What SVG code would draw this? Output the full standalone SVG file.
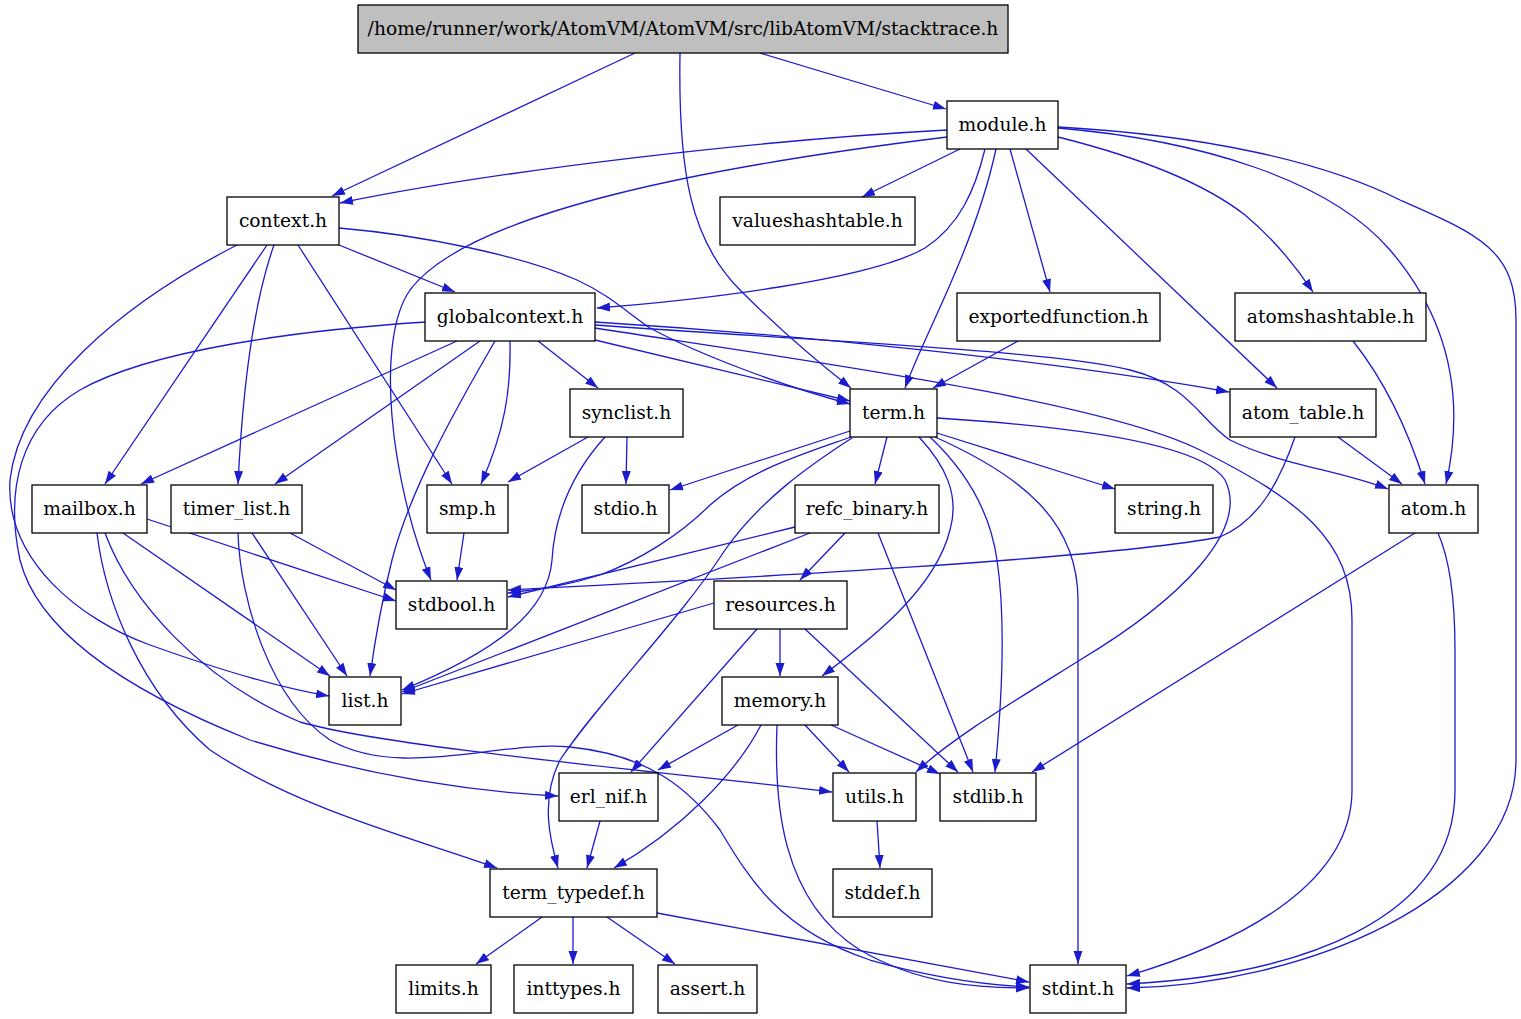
<svg xmlns="http://www.w3.org/2000/svg" width="1521" height="1019" viewBox="0 0 1521 1019">
<defs>
<style>
.n rect{fill:#fff;stroke:#000;stroke-width:1.3}
.n text{font-family:"DejaVu Serif",serif;font-size:18.67px;text-anchor:middle;fill:#000}
#e path{fill:none;stroke:#1c1ccf;stroke-width:1.3;marker-end:url(#a)}
</style>
<marker id="a" markerUnits="userSpaceOnUse" markerWidth="14" markerHeight="10" refX="13" refY="4.5" orient="auto">
<path d="M0,0 L13,4.5 L0,9 z" fill="#1c1ccf"/>
</marker>
</defs>
<rect width="1521" height="1019" fill="#fff"/>
<g id="e">
<path d="M635,53 L332,196"/>
<path d="M680,53 C678,170 690,240 740,290 C780,330 815,360 851,388"/>
<path d="M760,53 L946,109"/>
<path d="M947,130 C760,140 500,170 340,203"/>
<path d="M947,137 C720,165 470,210 410,290 C375,340 390,480 431,580"/>
<path d="M960,149 L862,197"/>
<path d="M985,149 C975,190 960,225 925,248 C870,280 700,300 597,308"/>
<path d="M996,149 C985,200 965,250 952,280 C935,320 915,360 905,388"/>
<path d="M1010,149 L1050,292"/>
<path d="M1026,149 L1277,388"/>
<path d="M1058,137 C1130,155 1200,180 1245,215 C1275,240 1295,265 1313,292"/>
<path d="M1058,128 C1200,140 1330,180 1390,250 C1450,320 1465,400 1446,484"/>
<path d="M1058,127 C1200,135 1320,160 1400,200 C1480,235 1516,250 1516,320 L1516,760 C1516,900 1300,985 1127,988"/>
<path d="M339,245 L455,292"/>
<path d="M339,228 C420,235 520,255 577,280 C610,295 630,315 650,328 C700,355 780,385 850,404"/>
<path d="M267,245 L105,484"/>
<path d="M274,245 C258,290 244,360 238,484"/>
<path d="M298,245 L452,484"/>
<path d="M237,245 C120,305 20,390 10,480 C5,560 80,620 150,645 C220,670 280,688 329,696"/>
<path d="M538,341 L598,388"/>
<path d="M595,340 L850,401"/>
<path d="M595,322 C800,335 1050,360 1229,392"/>
<path d="M595,325 C800,340 1050,350 1130,370 C1190,385 1200,420 1230,440 C1280,465 1340,470 1388,489"/>
<path d="M595,328 C800,360 1100,400 1200,450 C1300,500 1352,540 1352,620 L1352,790 C1352,880 1250,940 1127,976"/>
<path d="M457,341 L141,484"/>
<path d="M480,341 L275,484"/>
<path d="M510,341 C511,390 505,430 481,484"/>
<path d="M495,341 C455,410 410,490 392,560 C382,600 375,640 370,676"/>
<path d="M426,322 C300,330 150,350 80,390 C20,425 5,490 20,560 C40,640 150,700 250,740 C380,780 480,792 558,796"/>
<path d="M588,437 L508,482"/>
<path d="M627,437 L626,484"/>
<path d="M605,437 C575,470 555,510 552,560 C548,610 500,650 402,690"/>
<path d="M464,533 L457,580"/>
<path d="M290,533 L396,590"/>
<path d="M252,533 L347,676"/>
<path d="M238,533 C240,600 270,700 330,740 C400,780 500,740 570,747 C650,755 690,790 720,830 C750,880 780,930 870,960 C940,980 990,985 1029,987"/>
<path d="M147,519 L396,601"/>
<path d="M123,533 L330,676"/>
<path d="M97,533 C105,600 140,690 210,750 C300,810 420,840 497,868"/>
<path d="M105,533 C130,600 200,680 300,722 C400,750 700,775 832,792"/>
<path d="M850,431 L670,490"/>
<path d="M851,437 C800,455 750,470 710,505 C680,535 640,560 600,575 C560,588 530,590 508,593"/>
<path d="M887,437 L875,484"/>
<path d="M937,433 L1115,489"/>
<path d="M919,437 C945,465 960,495 950,530 C935,590 870,640 822,676"/>
<path d="M852,438 C810,465 760,500 725,550 C680,620 600,700 560,760 C540,800 550,840 558,868"/>
<path d="M937,418 C1050,425 1200,440 1225,480 C1250,530 1180,600 1080,660 C1000,710 950,740 916,772"/>
<path d="M930,437 C965,470 990,510 997,560 C1006,620 1002,700 995,772"/>
<path d="M935,437 C1020,475 1078,520 1078,600 L1078,964"/>
<path d="M795,527 L508,597"/>
<path d="M810,533 L402,692"/>
<path d="M845,533 L800,580"/>
<path d="M878,533 L973,772"/>
<path d="M714,603 L402,694"/>
<path d="M780,629 L780,676"/>
<path d="M757,629 L631,772"/>
<path d="M805,629 L958,772"/>
<path d="M738,725 L658,770"/>
<path d="M761,725 C735,775 680,830 614,868"/>
<path d="M805,725 L849,772"/>
<path d="M831,725 L940,774"/>
<path d="M777,725 C774,800 780,900 860,950 C920,985 980,988 1029,988"/>
<path d="M600,821 L587,868"/>
<path d="M877,821 L880,868"/>
<path d="M542,917 L476,964"/>
<path d="M573,917 L573,964"/>
<path d="M607,917 L675,964"/>
<path d="M657,913 L1029,982"/>
<path d="M1338,437 L1402,484"/>
<path d="M1295,437 C1280,480 1260,520 1220,537 C1100,560 700,580 508,590"/>
<path d="M1353,341 C1380,375 1405,420 1425,484"/>
<path d="M1415,533 L1032,772"/>
<path d="M1438,533 C1450,560 1455,600 1455,650 L1455,790 C1455,920 1300,975 1127,984"/>
<path d="M1018,341 L933,388"/>
</g>
<g id="root" class="n"><rect x="358" y="5" width="650" height="48" style="fill:#bfbfbf"/><text x="683" y="35">/home/runner/work/AtomVM/AtomVM/src/libAtomVM/stacktrace.h</text></g>
<g id="module" class="n"><rect x="947" y="101" width="111" height="48"/><text x="1002.5" y="131">module.h</text></g>
<g id="context" class="n"><rect x="227" y="197" width="112" height="48"/><text x="283" y="227">context.h</text></g>
<g id="valueshashtable" class="n"><rect x="720" y="197" width="195" height="48"/><text x="817.5" y="227">valueshashtable.h</text></g>
<g id="globalcontext" class="n"><rect x="425" y="293" width="170" height="48"/><text x="510" y="323">globalcontext.h</text></g>
<g id="exportedfunction" class="n"><rect x="957" y="293" width="203" height="48"/><text x="1058.5" y="323">exportedfunction.h</text></g>
<g id="atomshashtable" class="n"><rect x="1235" y="293" width="191" height="48"/><text x="1330.5" y="323">atomshashtable.h</text></g>
<g id="synclist" class="n"><rect x="570" y="389" width="113" height="48"/><text x="626.5" y="419">synclist.h</text></g>
<g id="term" class="n"><rect x="850" y="389" width="87" height="48"/><text x="893.5" y="419">term.h</text></g>
<g id="atom_table" class="n"><rect x="1230" y="389" width="146" height="48"/><text x="1303" y="419">atom_table.h</text></g>
<g id="mailbox" class="n"><rect x="32" y="485" width="115" height="48"/><text x="89.5" y="515">mailbox.h</text></g>
<g id="timer_list" class="n"><rect x="171" y="485" width="131" height="48"/><text x="236.5" y="515">timer_list.h</text></g>
<g id="smp" class="n"><rect x="427" y="485" width="81" height="48"/><text x="467.5" y="515">smp.h</text></g>
<g id="stdio" class="n"><rect x="582" y="485" width="87" height="48"/><text x="625.5" y="515">stdio.h</text></g>
<g id="refc_binary" class="n"><rect x="795" y="485" width="144" height="48"/><text x="867" y="515">refc_binary.h</text></g>
<g id="string" class="n"><rect x="1115" y="485" width="98" height="48"/><text x="1164" y="515">string.h</text></g>
<g id="atom" class="n"><rect x="1389" y="485" width="89" height="48"/><text x="1433.5" y="515">atom.h</text></g>
<g id="stdbool" class="n"><rect x="396" y="581" width="111" height="48"/><text x="451.5" y="611">stdbool.h</text></g>
<g id="resources" class="n"><rect x="714" y="581" width="133" height="48"/><text x="780.5" y="611">resources.h</text></g>
<g id="list" class="n"><rect x="329" y="677" width="72" height="48"/><text x="365" y="707">list.h</text></g>
<g id="memory" class="n"><rect x="722" y="677" width="116" height="48"/><text x="780" y="707">memory.h</text></g>
<g id="erl_nif" class="n"><rect x="559" y="773" width="99" height="48"/><text x="608.5" y="803">erl_nif.h</text></g>
<g id="utils" class="n"><rect x="833" y="773" width="83" height="48"/><text x="874.5" y="803">utils.h</text></g>
<g id="stdlib" class="n"><rect x="940" y="773" width="96" height="48"/><text x="988" y="803">stdlib.h</text></g>
<g id="term_typedef" class="n"><rect x="490" y="869" width="167" height="48"/><text x="573.5" y="899">term_typedef.h</text></g>
<g id="stddef" class="n"><rect x="833" y="869" width="99" height="48"/><text x="882.5" y="899">stddef.h</text></g>
<g id="limits" class="n"><rect x="396" y="965" width="95" height="48"/><text x="443.5" y="995">limits.h</text></g>
<g id="inttypes" class="n"><rect x="514" y="965" width="119" height="48"/><text x="573.5" y="995">inttypes.h</text></g>
<g id="assert" class="n"><rect x="658" y="965" width="99" height="48"/><text x="707.5" y="995">assert.h</text></g>
<g id="stdint" class="n"><rect x="1030" y="965" width="96" height="48"/><text x="1078" y="995">stdint.h</text></g>
</svg>
